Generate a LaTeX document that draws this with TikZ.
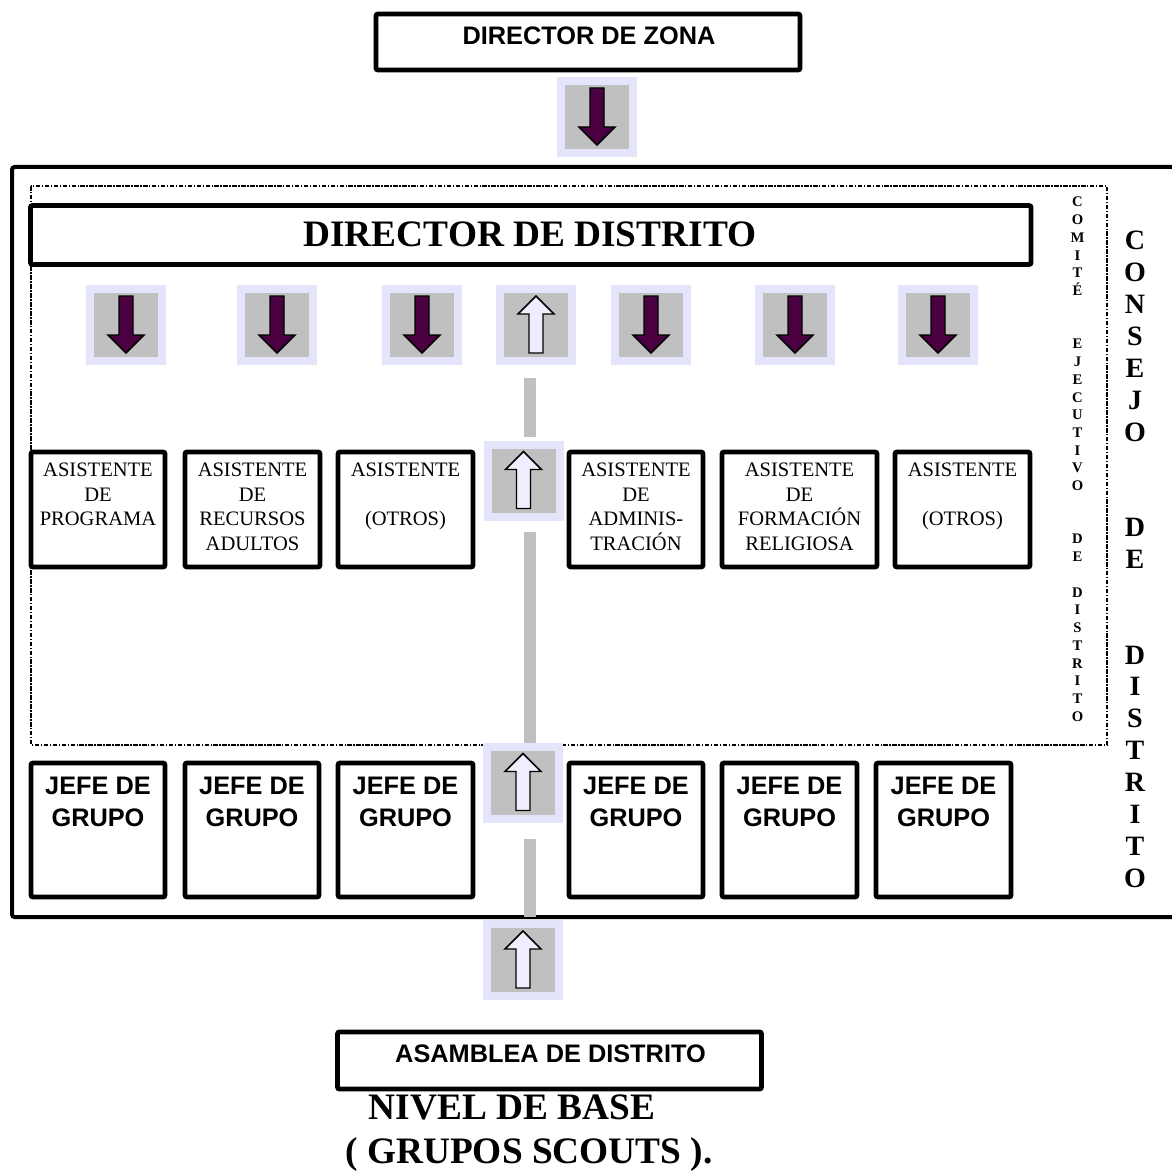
\documentclass[tikz,border=0pt]{standalone}
\usepackage{fontspec}
\setmainfont{Liberation Serif}
\newfontfamily\arialf{Liberation Sans}
\definecolor{lav}{RGB}{228,228,250}
\definecolor{btngray}{RGB}{192,192,192}
\definecolor{plum}{RGB}{75,0,65}
\definecolor{uplight}{RGB}{238,238,255}
\definecolor{bargray}{RGB}{192,192,192}
\tikzset{
  x=0.75pt, y=-0.75pt,
  box/.style={draw, line width=3.6pt, rounded corners=1.5pt, inner sep=0pt},
  btnbg/.style={fill=lav, draw=none, minimum size=60pt, inner sep=0pt},
  arrowline/.style={draw=black, line width=1.1pt, line join=miter},
  bar/.style={draw=bargray, line width=9pt},
  sansb/.style={font=\arialf\bfseries\fontsize{19}{24}\selectfont, inner sep=0pt, align=center},
  asis/.style={font=\fontsize{15.4}{18.4}\selectfont, inner sep=0pt, align=center, anchor=north},
  dashdot/.style={line width=1.4pt, dash pattern=on 3.4pt off 1.1pt on 1.1pt off 1.1pt},
  pics/downbtn/.style={code={
    \node[btnbg] (-box) at (0,0) {};
    \fill[btngray] (-32,-32) rectangle (32,32);
    \draw[arrowline, fill=plum] (-7,-29) -- (7,-29) -- (7,10) -- (18,10) -- (0,28) -- (-18,10) -- (-7,10) -- cycle;
  }},
  pics/upbtn/.style={code={
    \node[btnbg] (-box) at (0,0) {};
    \fill[btngray] (-32,-32) rectangle (32,32);
    \draw[arrowline, fill=uplight] (-7,28) -- (7,28) -- (7,-11) -- (18,-11) -- (0,-29) -- (-18,-11) -- (-7,-11) -- cycle;
  }},
}
\begin{document}
\begin{tikzpicture}
\useasboundingbox (0,0) rectangle (1171,1173);
% outer council frame
\draw[line width=3pt, rounded corners=2pt] (1180,167) -- (12,167) -- (12,917) -- (1180,917);
% executive committee dotted frame
\draw[dashdot] (31,186) rectangle (1107,745);

% top
\node[box, minimum width=318pt, minimum height=42pt] (zona) at (588,42) {};
\node[sansb, anchor=base] (tzona) at (589,45) {DIRECTOR DE ZONA};
\pic (bz) at (597,117) {downbtn};

% director de distrito
\node[box, minimum width=750.4pt, minimum height=44.25pt] (dist) at (530.75,235) {};
\node[font=\bfseries\fontsize{28}{32}\selectfont, inner sep=0pt, anchor=base] (tdist) at (530,247) {DIRECTOR DE DISTRITO};

% row of buttons
\pic (r1) at (126,325) {downbtn};
\pic (r2) at (277,325) {downbtn};
\pic (r3) at (422,325) {downbtn};
\pic (r4) at (536,325) {upbtn};
\pic (r5) at (651,325) {downbtn};
\pic (r6) at (795,325) {downbtn};
\pic (r7) at (938,325) {downbtn};

% asistentes
\node[box, minimum width=100.5pt, minimum height=86.25pt] (a1) at (98,509.5) {};
\node[box, minimum width=101.25pt, minimum height=86.25pt] (a2) at (252.5,509.5) {};
\node[box, minimum width=101.25pt, minimum height=86.25pt] (a3) at (405.5,509.5) {};
\node[box, minimum width=100.5pt, minimum height=86.25pt] (a4) at (636,509.5) {};
\node[box, minimum width=116.25pt, minimum height=86.25pt] (a5) at (799.5,509.5) {};
\node[box, minimum width=101.25pt, minimum height=86.25pt] (a6) at (962.5,509.5) {};
\node[asis] (ta1) at (98,463) {ASISTENTE\\DE\\PROGRAMA};
\node[asis] (ta2) at (252.5,463) {ASISTENTE\\DE\\RECURSOS\\ADULTOS};
\node[asis] (ta3) at (405.5,463) {ASISTENTE\\\mbox{}\\(OTROS)};
\node[asis] (ta4) at (636,463) {ASISTENTE\\DE\\ADMINIS-\\TRACIÓN};
\node[asis] (ta5) at (799.5,463) {ASISTENTE\\DE\\FORMACIÓN\\RELIGIOSA};
\node[asis] (ta6) at (962.5,463) {ASISTENTE\\\mbox{}\\(OTROS)};

% jefes de grupo
\node[box, minimum width=100.5pt, minimum height=100.5pt] (j1) at (98,830) {};
\node[box, minimum width=100.5pt, minimum height=100.5pt] (j2) at (252,830) {};
\node[box, minimum width=101.25pt, minimum height=100.5pt] (j3) at (405.5,830) {};
\node[box, minimum width=100.5pt, minimum height=100.5pt] (j4) at (636,830) {};
\node[box, minimum width=101.25pt, minimum height=100.5pt] (j5) at (789.5,830) {};
\node[box, minimum width=101.25pt, minimum height=100.5pt] (j6) at (943.5,830) {};
\foreach \n/\x in {1/98,2/252,3/405.5,4/636,5/789.5,6/943.5}
  \node[sansb, anchor=north] (tj\n) at (\x,777) {JEFE DE\\GRUPO};

% gray connector bar
\coordinate (c1) at (530,378);
\coordinate (c2) at (530,437);
\coordinate (c3) at (530,532);
\coordinate (c4) at (530,743);
\coordinate (c5) at (530,839);
\coordinate (c6) at (530,917);
\draw[bar] (c1) -- (c2);
\draw[bar] (c3) -- (c4);
\draw[bar] (c5) -- (c6);

% middle column buttons
\pic (m1) at (523.5,480.5) {upbtn};
\pic (m2) at (523,782.5) {upbtn};
\pic (m3) at (523,960) {upbtn};

% vertical labels
\node[font=\bfseries\fontsize{11}{13.3}\selectfont, inner sep=0pt, align=center, anchor=north] (comite) at (1077.5,197)
 {C\\O\\M\\I\\T\\É\\\mbox{}\\\mbox{}\\E\\J\\E\\C\\U\\T\\I\\V\\O\\\mbox{}\\\mbox{}\\D\\E\\\mbox{}\\D\\I\\S\\T\\R\\I\\T\\O};
\node[font=\bfseries\fontsize{21}{23.9}\selectfont, inner sep=0pt, align=center, anchor=north] (consejo) at (1135,231)
 {C\\O\\N\\S\\E\\J\\O\\\mbox{}\\\mbox{}\\D\\E\\\mbox{}\\\mbox{}\\D\\I\\S\\T\\R\\I\\T\\O};

% bottom
\node[box, minimum width=318pt, minimum height=42.75pt] (asam) at (549.5,1060.5) {};
\node[sansb, anchor=base] (tasam) at (550.5,1062) {ASAMBLEA DE DISTRITO};
\node[font=\bfseries\fontsize{28}{32}\selectfont, inner sep=0pt, anchor=base] (nivel) at (512,1119) {NIVEL DE BASE};
\node[font=\bfseries\fontsize{28}{32}\selectfont, inner sep=0pt, anchor=base] (grupos) at (529,1163) {( GRUPOS SCOUTS ).};
\end{tikzpicture}
\end{document}
